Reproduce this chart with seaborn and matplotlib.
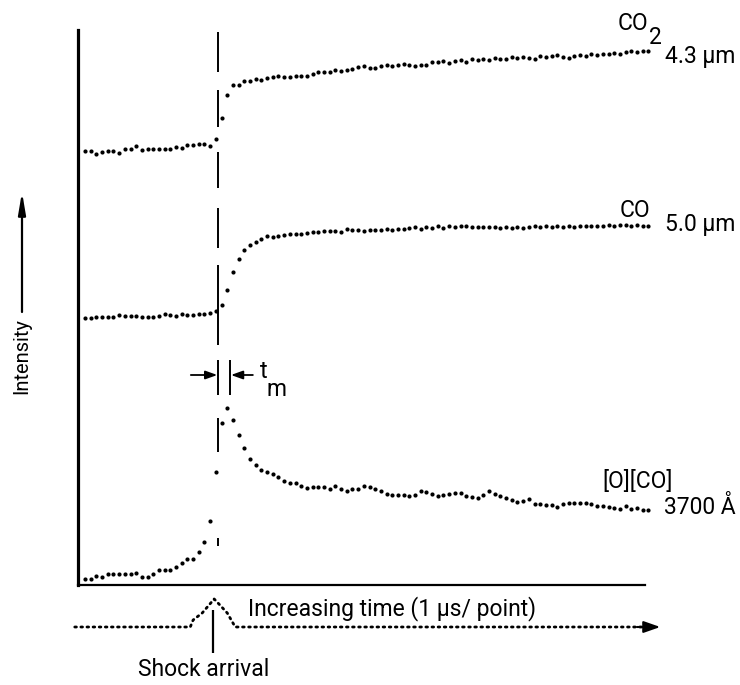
import matplotlib
matplotlib.use("Agg")
import numpy as np
import pandas as pd
import seaborn as sns
import matplotlib.pyplot as plt
from matplotlib import font_manager

# ---------------- data (time index in µs, intensity in arbitrary units) ----------------
time_us = list(range(100))

co2_43um = [86.9, 86.9, 86.3, 86.7, 86.8, 86.8, 86.5, 87.2, 87.2, 87.8,
            87.0, 87.2, 87.2, 87.3, 87.3, 87.3, 87.7, 87.5, 88.0, 88.1,
            88.2, 88.3, 87.9, 89.3, 93.4, 98.0, 100.0, 100.1, 100.8, 100.8,
            101.2, 101.0, 101.4, 101.6, 101.8, 101.6, 101.7, 101.8, 101.8, 101.8,
            102.2, 102.7, 102.6, 102.7, 103.0, 102.8, 103.0, 103.2, 103.6, 103.8,
            103.4, 103.4, 103.8, 104.0, 103.9, 104.1, 104.3, 104.0, 103.8, 104.1,
            104.1, 104.6, 104.6, 104.8, 104.5, 104.9, 105.0, 104.7, 105.2, 105.0,
            105.3, 105.1, 105.5, 105.3, 105.2, 105.6, 105.4, 105.7, 105.5, 105.3,
            105.8, 105.6, 105.8, 106.0, 105.7, 105.5, 105.8, 106.0, 105.9, 106.2,
            106.0, 106.3, 106.2, 106.5, 106.3, 106.6, 106.8, 106.6, 106.8, 106.8]

co_50um = [53.5, 53.5, 53.6, 53.6, 53.6, 53.6, 54.0, 53.9, 53.8, 53.8,
           53.7, 53.7, 53.7, 53.8, 54.2, 54.1, 53.9, 54.3, 54.1, 54.1,
           54.2, 54.3, 54.5, 54.9, 56.1, 59.1, 62.7, 65.2, 67.1, 68.1,
           68.6, 69.3, 69.8, 69.7, 69.9, 70.0, 70.2, 70.3, 70.3, 70.5,
           70.6, 70.7, 70.8, 70.8, 70.9, 70.7, 71.3, 71.0, 71.0, 70.9,
           71.1, 71.0, 71.1, 71.2, 71.1, 71.2, 71.3, 71.4, 71.6, 71.3,
           71.7, 71.4, 71.8, 71.5, 71.9, 71.6, 71.8, 71.9, 71.7, 71.6,
           71.7, 71.6, 71.6, 71.5, 71.6, 71.5, 71.6, 71.4, 71.7, 71.8,
           71.7, 71.9, 71.7, 71.8, 71.7, 71.8, 71.7, 71.8, 71.9, 71.8,
           71.9, 71.8, 72.0, 71.9, 72.1, 72.0, 71.9, 72.0, 71.9, 71.9]

o_co_3700A = [1.3, 1.2, 1.8, 1.7, 2.2, 2.3, 2.3, 2.3, 2.3, 2.5,
              1.7, 1.7, 2.3, 3.1, 3.1, 3.1, 3.7, 4.5, 5.3, 5.2,
              6.7, 8.7, 12.9, 22.6, 32.5, 35.5, 33.0, 30.0, 27.5, 25.2,
              24.0, 23.1, 22.7, 22.2, 21.7, 20.9, 20.5, 20.5, 19.9, 19.5,
              19.7, 19.7, 19.7, 19.3, 19.8, 19.3, 18.9, 19.3, 19.3, 19.8,
              19.7, 19.3, 18.8, 18.3, 18.1, 18.0, 18.0, 17.8, 18.0, 18.8,
              18.7, 18.2, 17.9, 18.0, 18.2, 18.5, 18.5, 17.8, 17.7, 17.5,
              18.0, 18.8, 18.3, 17.8, 17.5, 17.1, 16.7, 16.9, 17.3, 16.3,
              16.2, 16.0, 16.0, 15.7, 16.2, 16.5, 16.5, 16.5, 16.5, 16.3,
              15.8, 15.8, 15.7, 15.5, 15.3, 15.8, 15.3, 15.5, 15.1, 15.1]

series_names = ["CO2 4.3 µm", "CO 5.0 µm", "[O][CO] 3700 Å"]

# schematic time axis (shock-arrival bump) below the plot
sched_t = [-1.8, 18.5, 19.0, 20.6, 21.8, 22.7, 23.7, 25.0, 25.7, 26.4, 98.4]
sched_y = [-8.4, -8.4, -7.0, -5.6, -4.0, -2.8, -4.0, -5.6, -7.0, -8.4, -8.4]

SHOCK_T = 23.4
TM_T = 25.5

# ---------------- styling ----------------
sns.set_style("white")
names = {f.name for f in font_manager.fontManager.ttflist}
FONT = "Roboto" if "Roboto" in names else "DejaVu Sans"
plt.rcParams["font.family"] = [FONT, "DejaVu Sans"]
plt.rcParams["text.color"] = "black"
FS = 16.5
TXT = dict(color="black", fontsize=FS)

W, H = 740, 685
fig = plt.figure(figsize=(W / 100, H / 100), dpi=100)
ax = fig.add_axes([78 / W, (H - 585) / H, (660 - 78) / W, (585 - 30) / H])


def px(x, y):
    return (x / W, 1 - y / H)


df = pd.DataFrame({
    "t": time_us * 3,
    "I": co2_43um + co_50um + o_co_3700A,
    "series": sum([[n] * len(time_us) for n in series_names], []),
})
sns.scatterplot(data=df, x="t", y="I", color="black", s=9, linewidth=0,
                ax=ax, legend=False, clip_on=False)

ax.set_xlim(-1.23, 101.05)
ax.set_ylim(0, 111)
ax.set_xticks([])
ax.set_yticks([])
ax.set_xlabel("")
ax.set_ylabel("")
for s in ["top", "right"]:
    ax.spines[s].set_visible(False)
ax.spines["left"].set_linewidth(2.3)
ax.spines["bottom"].set_linewidth(1.6)
ax.spines["bottom"].set_bounds(-1.23, 98.4)
ax.spines["left"].set_color("black")
ax.spines["bottom"].set_color("black")

# dashed shock-arrival line
seg_lo = [102.6, 91.6, 79.4, 67.4, 48.0, 26.6, 7.8]
seg_hi = [110.6, 99.0, 86.6, 75.4, 64.0, 33.4, 9.4]
ax.vlines([SHOCK_T] * len(seg_lo), seg_lo, seg_hi, color="black", lw=1.4)
# t_m bars
ax.vlines([SHOCK_T, TM_T], 38, 45, color="black", lw=1.4)
arrow_kw = dict(arrowstyle="-|>,head_length=0.7,head_width=0.25", color="black",
                lw=1.3, shrinkA=0, shrinkB=0)
ax.annotate("", xy=(SHOCK_T - 0.15, 42), xytext=(SHOCK_T - 4.8, 42), arrowprops=arrow_kw)
ax.annotate("", xy=(TM_T + 0.15, 42), xytext=(TM_T + 4.0, 42), arrowprops=arrow_kw)
fig.text(*px(264, 371), "t", ha="center", va="center", **{**TXT, "fontsize": FS + 0.5})
fig.text(*px(276, 389), "m", ha="center", va="center", **TXT)

# schematic time axis below
ax.plot(sched_t, sched_y, color="black", lw=2.0, linestyle=(0, (0.6, 1.6)),
        dash_capstyle="round", clip_on=False)
ax.annotate("", xy=(101.1, -8.4), xytext=(97.0, -8.4),
            arrowprops=dict(arrowstyle="-|>,head_length=1.0,head_width=0.35",
                            color="black", lw=1.5, shrinkA=0, shrinkB=0),
            annotation_clip=False)
ax.vlines([22.5], -13.6, -5.0, color="black", lw=1.6, clip_on=False)

# intensity arrow
ax.annotate("", xy=px(22, 192), xytext=px(22, 312), xycoords="figure fraction",
            textcoords="figure fraction",
            arrowprops=dict(arrowstyle="-|>,head_length=1.3,head_width=0.22",
                            color="black", lw=1.6, shrinkA=0, shrinkB=0))
fig.text(*px(22, 356), "Intensity", rotation=90, ha="center", va="center",
         **{**TXT, "fontsize": FS - 2})

# labels
fig.text(*px(633, 24), "CO", ha="center", va="center", **TXT)
fig.text(*px(655, 38), "2", ha="center", va="center", **TXT)
fig.text(*px(665, 57), "4.3 µm", ha="left", va="center", **TXT)
fig.text(*px(635, 210), "CO", ha="center", va="center", **TXT)
fig.text(*px(665, 224), "5.0 µm", ha="left", va="center", **TXT)
fig.text(*px(602, 481), "[O][CO]", ha="left", va="center", **TXT)
fig.text(*px(664, 507), "3700 Å", ha="left", va="center", **TXT)
fig.text(*px(248, 609), "Increasing time (1 µs/ point)", ha="left", va="center", **TXT)
fig.text(*px(204, 670), "Shock arrival", ha="center", va="center", **TXT)

fig.savefig("out.png", dpi=100, facecolor="white")
